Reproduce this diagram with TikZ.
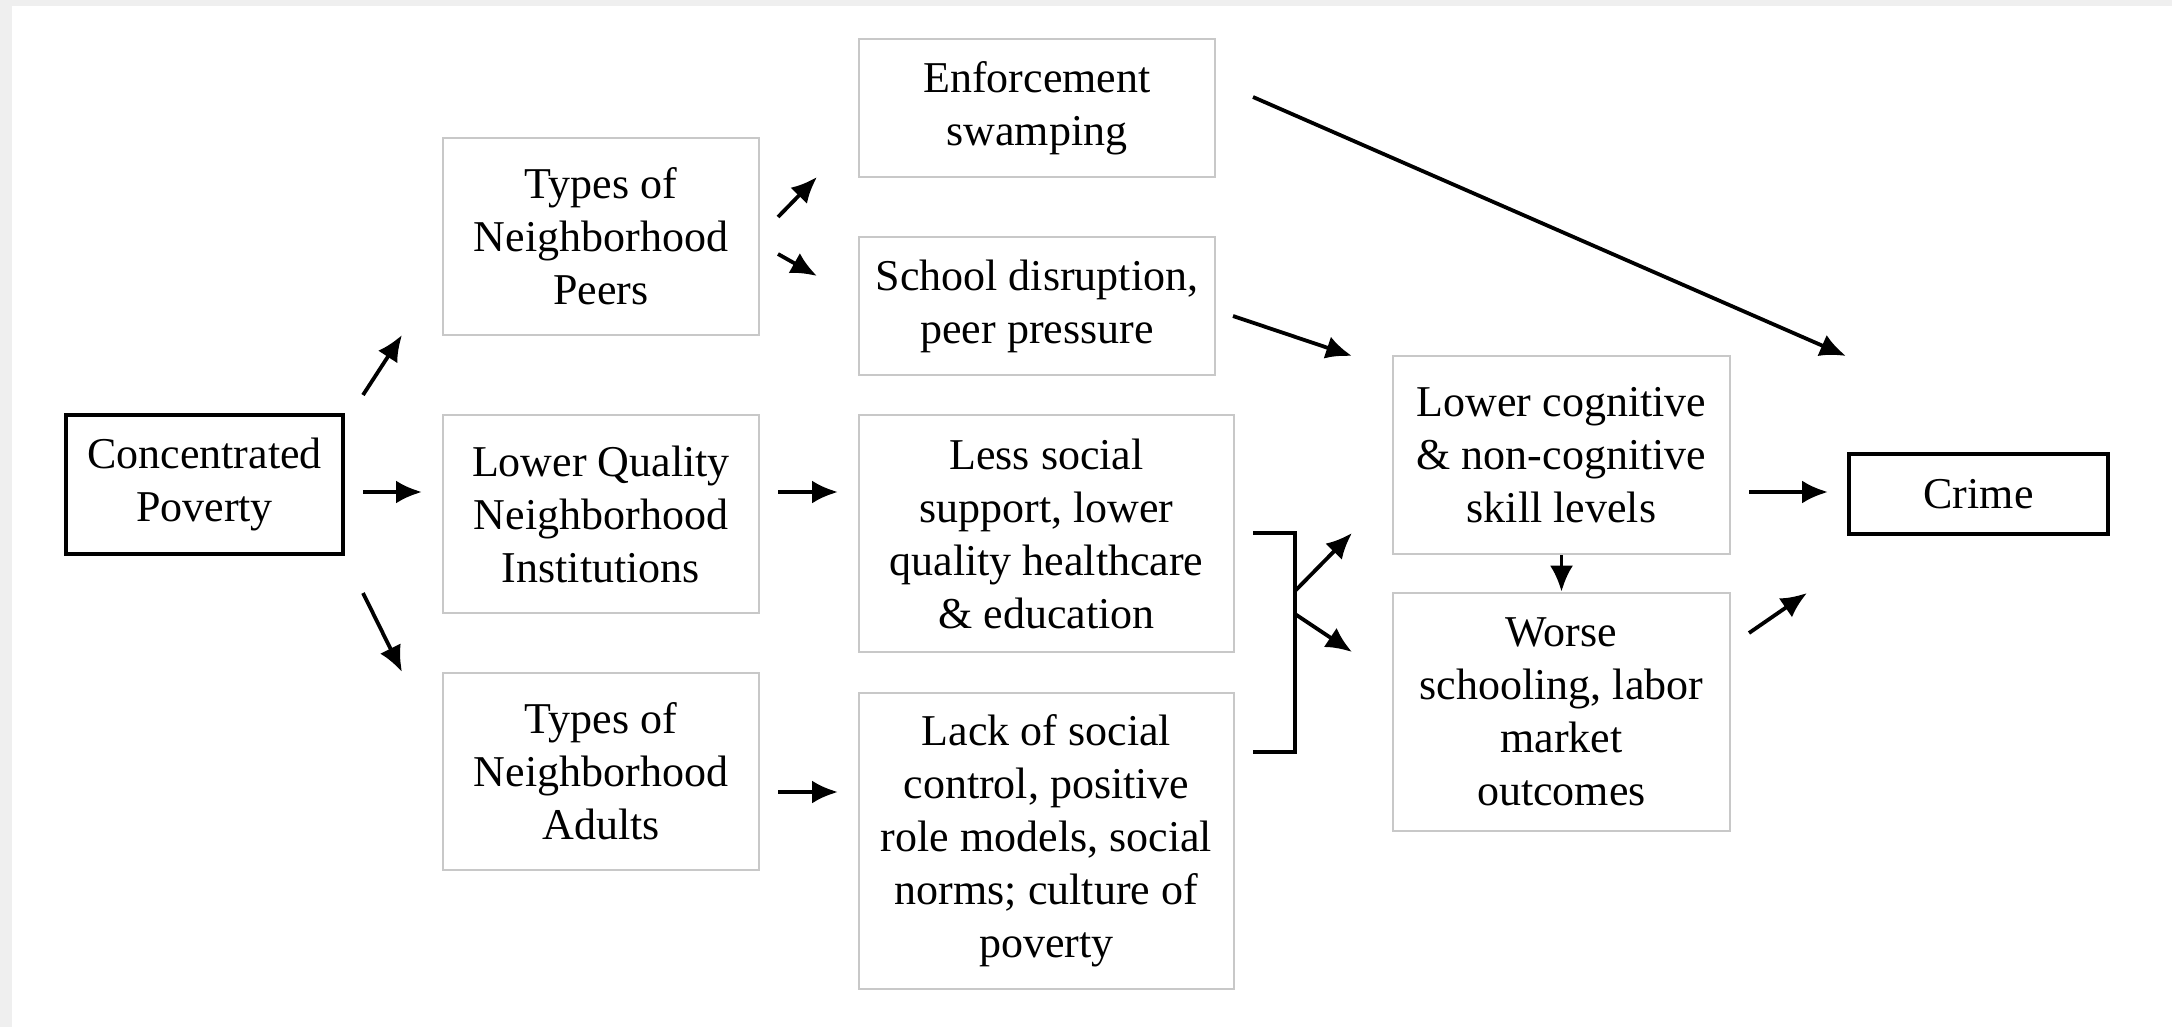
\documentclass[tikz,border=0pt]{standalone}
\usepackage{fontspec}
\setmainfont{Liberation Serif}
\usetikzlibrary{arrows.meta}
\definecolor{edgegrey}{HTML}{EFEFEF}
\definecolor{boxgrey}{HTML}{C8C8C8}
\tikzset{
  lightbox/.style={draw=boxgrey, line width=1.3pt, align=center, inner sep=0pt,
    font=\fontsize{22}{26.5}\selectfont},
  darkbox/.style={draw=black, line width=1.9pt, align=center, inner sep=0pt,
    font=\fontsize{22}{26.5}\selectfont},
  arr/.style={draw=black, line width=1.9pt, -{Latex[length=13pt,width=11.5pt]}},
  plain/.style={draw=black, line width=1.6pt}
}
\begin{document}
\begin{tikzpicture}[x=0.5pt,y=-0.5pt]
\useasboundingbox (0,0) rectangle (2172,1027);
\fill[white] (0,0) rectangle (2172,1027);
\fill[edgegrey] (0,0) rectangle (12,1027);
\fill[edgegrey] (0,0) rectangle (2172,6);

\node[darkbox, minimum width=138.5pt, minimum height=69.5pt] (cp) at (204.5,484.5) {Concentrated\\Poverty};
\node[lightbox, minimum width=158pt, minimum height=98.5pt] (peers) at (601,236.5) {Types of\\Neighborhood\\Peers};
\node[lightbox, minimum width=158pt, minimum height=99pt] (lq) at (601,514) {Lower Quality\\Neighborhood\\Institutions};
\node[lightbox, minimum width=158pt, minimum height=98.5pt] (adults) at (601,771.5) {Types of\\Neighborhood\\Adults};
\node[lightbox, minimum width=178pt, minimum height=69pt] (enf) at (1037,108) {Enforcement\\swamping};
\node[lightbox, minimum width=178pt, minimum height=69pt] (school) at (1037,306) {School disruption,\\peer pressure};
\node[lightbox, minimum width=187.5pt, minimum height=118.5pt] (less) at (1046.5,533.5) {Less social\\support, lower\\quality healthcare\\\& education};
\node[lightbox, minimum width=187.5pt, minimum height=148pt] (lack) at (1046.5,841) {Lack of social\\control, positive\\role models, social\\norms; culture of\\poverty};
\node[lightbox, minimum width=168.5pt, minimum height=99pt] (lcog) at (1561.5,455) {Lower cognitive\\\& non-cognitive\\skill levels};
\node[lightbox, minimum width=168.5pt, minimum height=119pt] (worse) at (1561.5,712) {Worse\\schooling, labor\\market\\outcomes};
\node[darkbox, minimum width=129.5pt, minimum height=40pt] (crime) at (1978.5,494) {Crime};

% arrow end coordinates
\coordinate (a1s) at (363,395);  \coordinate (a1e) at (402,335);
\coordinate (a2s) at (363,492);  \coordinate (a2e) at (422,492);
\coordinate (a3s) at (363,593);  \coordinate (a3e) at (402,672);
\coordinate (a4s) at (778,217);  \coordinate (a4e) at (817,177);
\coordinate (a5s) at (778,254);  \coordinate (a5e) at (817,276);
\coordinate (a6s) at (778,492);  \coordinate (a6e) at (838,492);
\coordinate (a7s) at (778,792);  \coordinate (a7e) at (838,792);
\coordinate (a8s) at (1253,97);  \coordinate (a8e) at (1846,356);
\coordinate (a9s) at (1233,316); \coordinate (a9e) at (1352,356);
\coordinate (bt) at (1253,533);  \coordinate (bb) at (1253,752);
\coordinate (b1) at (1295,591);  \coordinate (b2) at (1295,614);
\coordinate (a10e) at (1352,533); \coordinate (a11e) at (1352,652);
\coordinate (a12s) at (1749,492); \coordinate (a12e) at (1828,492);
\coordinate (a14s) at (1749,633); \coordinate (a14e) at (1807,593);

\draw[arr] (a1s) -- (a1e);
\draw[arr] (a2s) -- (a2e);
\draw[arr] (a3s) -- (a3e);
\draw[arr] (a4s) -- (a4e);
\draw[arr] (a5s) -- (a5e);
\draw[arr] (a6s) -- (a6e);
\draw[arr] (a7s) -- (a7e);
\draw[arr] (a8s) -- (a8e);
\draw[arr] (a9s) -- (a9e);
\draw[plain] (bt) -- (1295,533) -- (1295,752) -- (bb);
\draw[arr] (b1) -- (a10e);
\draw[arr] (b2) -- (a11e);
\draw[arr] (a12s) -- (a12e);
\draw[arr] (lcog.south) -- (worse.north);
\draw[arr] (a14s) -- (a14e);
\end{tikzpicture}
\end{document}
